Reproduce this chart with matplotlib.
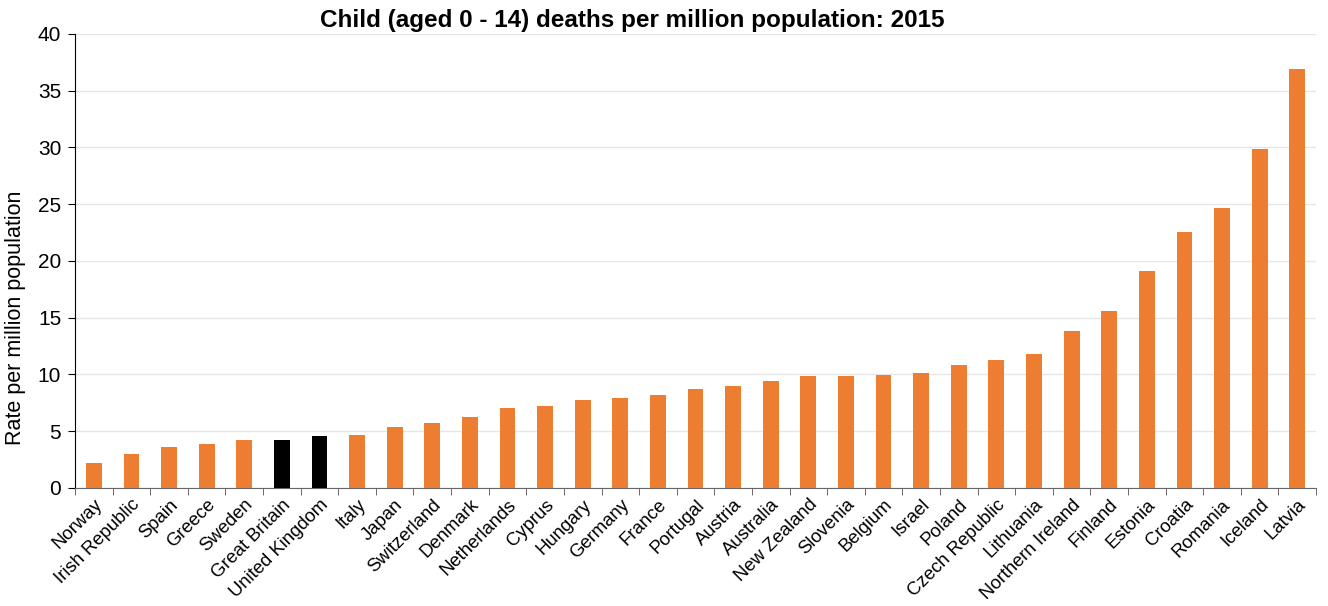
import matplotlib
matplotlib.use("Agg")
import matplotlib.pyplot as plt
import numpy as np

# data
countries = ["Norway", "Irish Republic", "Spain", "Greece", "Sweden", "Great Britain",
             "United Kingdom", "Italy", "Japan", "Switzerland", "Denmark", "Netherlands",
             "Cyprus", "Hungary", "Germany", "France", "Portugal", "Austria", "Australia",
             "New Zealand", "Slovenia", "Belgium", "Israel", "Poland", "Czech Republic",
             "Lithuania", "Northern Ireland", "Finland", "Estonia", "Croatia", "Romania",
             "Iceland", "Latvia"]
rates = [2.2, 2.95, 3.6, 3.87, 4.2, 4.2, 4.58, 4.67, 5.4, 5.7, 6.25, 7.05, 7.2, 7.75,
         7.9, 8.2, 8.7, 9.0, 9.4, 9.85, 9.85, 9.95, 10.15, 10.85, 11.25, 11.8, 13.85,
         15.6, 19.1, 22.55, 24.67, 29.87, 36.9]
highlight = ["Great Britain", "United Kingdom"]

plt.rcParams['font.family'] = ['Liberation Sans', 'DejaVu Sans']

fig = plt.figure(figsize=(13.28, 6.06), dpi=100)
ax = fig.add_axes([0.0565, 0.195, 0.9345, 0.749])

x = np.arange(len(countries))
colors = ["#000000" if c in highlight else "#ED7D31" for c in countries]
ax.bar(x, rates, width=0.42, color=colors, zorder=3)

ax.set_xlim(-0.5, len(countries) - 0.5)
ax.set_ylim(0, 40)
ax.set_yticks(np.arange(0, 41, 5))
ax.yaxis.grid(True, color="#e6e6e6", linewidth=1, zorder=0)

ax.set_xticks(x)
ax.set_xticklabels(countries, rotation=45, ha="right", rotation_mode="anchor", fontsize=13.3)
ax.tick_params(axis="x", length=0, pad=6)
ax.set_xticks(np.arange(-0.5, len(countries)), minor=True)
ax.tick_params(axis="x", which="minor", length=5, color="#555555")
ax.tick_params(axis="y", labelsize=15, length=5, direction="out", pad=5)

for s in ["top", "right"]:
    ax.spines[s].set_visible(False)
ax.spines["left"].set_color("#000000")
ax.spines["bottom"].set_color("#666666")

ax.set_ylabel("Rate per million population", fontsize=15.5)
ax.yaxis.set_label_coords(-0.0395, 0.374)

fig.text(0.476, 0.966, "Child (aged 0 - 14) deaths per million population: 2015",
         ha="center", va="center", fontsize=17.5, fontweight="bold")

fig.savefig("out.png", dpi=100)
